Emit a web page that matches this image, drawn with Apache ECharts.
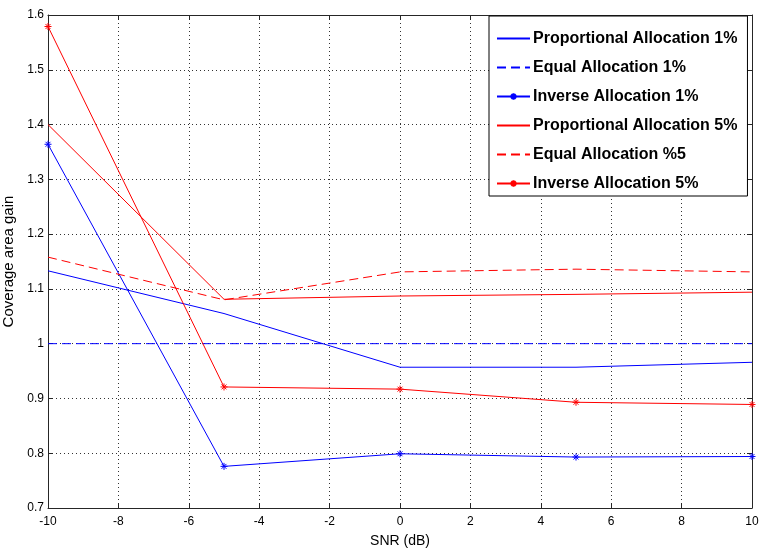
<!DOCTYPE html>
<html>
<head>
<meta charset="utf-8">
<script src="https://cdn.jsdelivr.net/npm/echarts@6/dist/echarts.min.js"></script>
<style>
  html, body { margin: 0; padding: 0; background: #fff; }
  #chart { width: 759px; height: 552px; }
</style>
</head>
<body>
<div id="chart"></div>
<script>
// SNR sample points (dB)
const snr = [-10, -5, 0, 5, 10];

// Coverage area gain for each allocation scheme
const proportional1 = [1.133, 1.055, 0.957, 0.957, 0.966];
const equal1        = [1.0, 1.0, 1.0, 1.0, 1.0];
const inverse1      = [1.364, 0.776, 0.799, 0.793, 0.794];
const proportional5 = [1.400, 1.081, 1.087, 1.090, 1.094];
const equal5        = [1.158, 1.080, 1.131, 1.136, 1.131];
const inverse5      = [1.579, 0.921, 0.917, 0.893, 0.889];

const seriesNames = [
  'Proportional Allocation 1%',
  'Equal Allocation 1%',
  'Inverse Allocation 1%',
  'Proportional Allocation 5%',
  'Equal Allocation %5',
  'Inverse Allocation 5%'
];
// per-series style flags
const hasMarker = [false, false, true, false, false, true];
const isDashed  = [false, true, false, false, true, false];

const FONT = '"Liberation Sans", Arial, Helvetica, sans-serif';
const BLUE = '#0000ff';
const RED = '#ff0000';
const seriesColors = [BLUE, BLUE, BLUE, RED, RED, RED];
const DASH = [9, 5];
// asterisk marker drawn as strokes
const STAR = 'path://M0,5L10,5M5,0L5,10M1.5,1.5L8.5,8.5M8.5,1.5L1.5,8.5';

function pairs(vals) {
  return snr.map((x, i) => [x, vals[i]]);
}

function makeSeries(idx, vals) {
  const color = seriesColors[idx];
  const marker = hasMarker[idx];
  return {
    name: seriesNames[idx],
    type: 'line',
    data: pairs(vals),
    xAxisIndex: 0,
    yAxisIndex: 0,
    symbol: marker ? STAR : 'none',
    symbolSize: 7,
    showSymbol: marker,
    itemStyle: { color: color, borderColor: color, borderWidth: 1 },
    lineStyle: { color: color, width: 1, type: isDashed[idx] ? DASH : 'solid' },
    emphasis: { disabled: true },
    animation: false
  };
}

const axisLineStyle = { color: '#262626', width: 1 };
const gridLineStyle = { color: '#333', width: 1, type: [1, 3] };

// series without markers show only their line in the legend
const legendItems = seriesNames.map((n, i) =>
  hasMarker[i] ? { name: n } : { name: n, itemStyle: { opacity: 0 } });

const option = {
  backgroundColor: '#fff',
  animation: false,
  grid: { left: 48, right: 7, top: 15, bottom: 44, containLabel: false, outerBoundsMode: 'none' },
  legend: {
    orient: 'vertical',
    left: 489,
    top: 16,
    padding: [14, 10, 4, 7],
    itemWidth: 33,
    itemHeight: 8,
    itemGap: 12,
    backgroundColor: '#fff',
    borderColor: '#000',
    borderWidth: 1,
    borderRadius: 0,
    textStyle: { fontFamily: FONT, fontWeight: 'bold', fontSize: 16, lineHeight: 17, color: '#000', padding: [0, 0, 0, -2] },
    data: legendItems
  },
  xAxis: [{
    type: 'value',
    min: -10, max: 10, interval: 2,
    name: 'SNR (dB)',
    nameLocation: 'middle',
    nameGap: 26,
    nameTextStyle: { fontFamily: FONT, fontSize: 14, color: '#000' },
    axisLine: { show: true, onZero: false, lineStyle: axisLineStyle },
    axisTick: { show: true, inside: true, length: 5, lineStyle: axisLineStyle },
    axisLabel: { fontFamily: FONT, fontSize: 12, color: '#000', margin: 8 },
    splitLine: { show: true, lineStyle: gridLineStyle }
  }, {
    type: 'value',
    position: 'top',
    min: -10, max: 10, interval: 2,
    axisLine: { show: true, onZero: false, lineStyle: axisLineStyle },
    axisTick: { show: true, inside: true, length: 5, lineStyle: axisLineStyle },
    axisLabel: { show: false },
    splitLine: { show: false }
  }],
  yAxis: [{
    type: 'value',
    min: 0.7, max: 1.6, interval: 0.1,
    name: 'Coverage area gain',
    nameLocation: 'middle',
    nameGap: 23,
    nameTextStyle: { fontFamily: FONT, fontSize: 15, color: '#000' },
    axisLine: { show: true, onZero: false, lineStyle: axisLineStyle },
    axisTick: { show: true, inside: true, length: 5, lineStyle: axisLineStyle },
    axisLabel: {
      fontFamily: FONT, fontSize: 12, color: '#000', margin: 4,
      formatter: v => String(+v.toFixed(1))
    },
    splitLine: { show: true, lineStyle: gridLineStyle }
  }, {
    type: 'value',
    position: 'right',
    min: 0.7, max: 1.6, interval: 0.1,
    axisLine: { show: true, onZero: false, lineStyle: axisLineStyle },
    axisTick: { show: true, inside: true, length: 5, lineStyle: axisLineStyle },
    axisLabel: { show: false },
    splitLine: { show: false }
  }],
  series: [
    makeSeries(0, proportional1),
    makeSeries(1, equal1),
    makeSeries(2, inverse1),
    makeSeries(3, proportional5),
    makeSeries(4, equal5),
    makeSeries(5, inverse5)
  ]
};

const chart = echarts.init(document.getElementById('chart'), null, { renderer: 'canvas' });
chart.setOption(option);
</script>
</body>
</html>
